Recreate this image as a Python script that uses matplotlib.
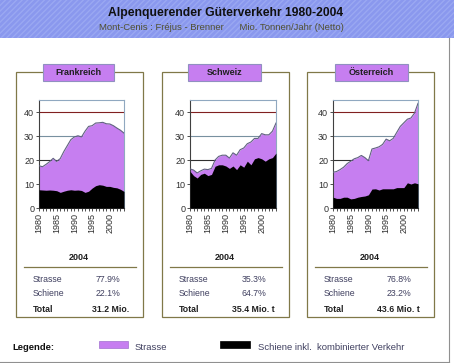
import matplotlib
matplotlib.use("Agg")
import matplotlib.pyplot as plt
from matplotlib.patches import Rectangle
import numpy as np

plt.rcParams["font.family"] = ["Liberation Sans", "DejaVu Sans"]

# ── Daten (Mio. Tonnen/Jahr) ──
YEARS = list(range(1980, 2005))

FR_TOTAL = [17.6, 17.2, 18.2, 19.3, 20.7, 19.4, 20.6, 23.5, 26.0, 28.5, 29.6, 30.1, 29.6,
            32.0, 34.0, 34.3, 35.4, 35.5, 35.7, 35.1, 35.0, 34.3, 33.3, 32.4, 31.2]
FR_RAIL = [7.6, 7.5, 7.4, 7.5, 7.4, 7.2, 6.5, 7.0, 7.4, 7.6, 7.4, 7.5, 7.3,
           6.5, 7.0, 8.3, 9.3, 9.7, 9.5, 9.0, 9.0, 8.6, 8.4, 7.8, 6.9]

CH_TOTAL = [16.3, 15.8, 14.6, 15.5, 16.2, 16.0, 16.5, 20.0, 21.5, 22.0, 22.0, 20.8, 23.0,
            22.0, 24.3, 25.0, 26.8, 27.5, 29.0, 29.0, 31.0, 30.5, 30.5, 32.0, 35.4]
CH_RAIL = [15.3, 13.5, 12.5, 14.0, 14.5, 13.5, 14.0, 17.4, 18.0, 18.0, 17.5, 16.5, 17.5,
           16.0, 18.0, 17.0, 19.5, 18.0, 20.5, 21.0, 20.5, 19.5, 20.5, 21.0, 22.9]

AT_TOTAL = [14.9, 15.2, 16.0, 17.0, 18.5, 19.5, 20.5, 21.0, 21.9, 21.0, 19.7, 24.6, 25.0,
            25.5, 26.5, 28.7, 28.0, 29.0, 31.5, 34.0, 35.5, 37.0, 37.5, 39.5, 43.6]
AT_RAIL = [4.5, 4.0, 4.0, 4.5, 4.5, 3.8, 4.0, 4.5, 4.8, 5.0, 5.5, 7.9, 8.0,
           7.5, 8.0, 8.0, 8.0, 8.0, 8.5, 8.5, 8.5, 10.5, 10.0, 10.5, 10.1]

COUNTRIES = ["Frankreich", "Schweiz", "Österreich"]
STRASSE = ["77.9%", "35.3%", "76.8%"]
SCHIENE = ["22.1%", "64.7%", "23.2%"]
TOTAL = ["31.2 Mio.", "35.4 Mio. t", "43.6 Mio. t"]
SERIES = [(FR_TOTAL, FR_RAIL), (CH_TOTAL, CH_RAIL), (AT_TOTAL, AT_RAIL)]

W, H = 454, 363
C_ROAD = "#c67ef0"
C_BOX = "#807848"
C_HEAD = "#8a98ee"

fig = plt.figure(figsize=(W / 100, H / 100), dpi=100, facecolor="white")

bg = fig.add_axes([0, 0, 1, 1])
bg.set_xlim(0, W)
bg.set_ylim(H, 0)
bg.axis("off")

# Kopfzeile
bg.add_patch(Rectangle((0, 0), W, 38, facecolor=C_HEAD, edgecolor="#9aa8f2",
                       hatch="//////", linewidth=0))
bg.text(226, 13, "Alpenquerender Güterverkehr 1980-2004", ha="center", va="center",
        fontsize=8.7, fontweight="bold", color="#101010")
bg.text(221, 28, "Mont-Cenis : Fréjus - Brenner      Mio. Tonnen/Jahr (Netto)",
        ha="center", va="center", fontsize=6.8, color="#505030")

# Rahmen rechts / unten
bg.plot([449, 449], [38, 362], color="#909090", lw=0.8)
bg.plot([0, 449], [361.5, 361.5], color="#909090", lw=0.8)

box_x = [16, 162, 307]
label_x = [(43, 114), (188, 261), (335, 408)]
ax_x = [(39, 124), (190, 276), (333, 418)]

for i, name in enumerate(COUNTRIES):
    x0 = box_x[i]
    bg.add_patch(Rectangle((x0, 72), 127, 245, facecolor="white", edgecolor=C_BOX, lw=0.9))
    lx0, lx1 = label_x[i]
    bg.add_patch(Rectangle((lx0, 64), lx1 - lx0, 17, facecolor=C_ROAD,
                           edgecolor="#9090c0", lw=0.8, zorder=3))
    bg.text((lx0 + lx1) / 2, 72.5, name, ha="center", va="center", fontsize=6.5,
            fontweight="bold", color="#202020", zorder=4)

    # Tabelle 2004
    bg.text(x0 + 63, 257, "2004", ha="center", va="center", fontsize=6.5,
            fontweight="bold", color="#202020")
    bg.plot([x0 + 8, x0 + 120], [266.5, 266.5], color=C_BOX, lw=0.9)
    bg.text(x0 + 17, 279, "Strasse", ha="left", va="center", fontsize=6.3, color="#404060")
    bg.text(x0 + 17, 294, "Schiene", ha="left", va="center", fontsize=6.3, color="#404060")
    bg.text(x0 + 17, 309, "Total", ha="left", va="center", fontsize=6.3,
            fontweight="bold", color="#202020")
    bg.text(x0 + 92, 279, STRASSE[i], ha="center", va="center", fontsize=6.3, color="#404060")
    bg.text(x0 + 92, 294, SCHIENE[i], ha="center", va="center", fontsize=6.3, color="#404060")
    bg.text(x0 + 113, 309, TOTAL[i], ha="right", va="center", fontsize=6.3,
            fontweight="bold", color="#202020")

    # Diagramm
    a0, a1 = ax_x[i]
    top, bottom = 100, 208
    ax = fig.add_axes([a0 / W, 1 - bottom / H, (a1 - a0) / W, (bottom - top) / H])
    total, rail = SERIES[i]
    for yv, c in zip([10, 20, 30, 40], ["#404040", "#303030", "#7890a0", "#802020"]):
        ax.axhline(yv, color=c, lw=0.8, zorder=1)
    ax.fill_between(YEARS, 0, total, color=C_ROAD, zorder=2, lw=0)
    ax.plot(YEARS, total, color="#606080", lw=0.8, zorder=3)
    ax.fill_between(YEARS, 0, rail, color="black", zorder=4, lw=0)
    ax.set_xlim(1980, 2004)
    ax.set_ylim(0, 45)
    ax.set_yticks([0, 10, 20, 30, 40])
    ax.set_xticks([1980, 1985, 1990, 1995, 2000])
    ax.set_xticks(YEARS, minor=True)
    ax.set_xticklabels(["1980", "1985", "1990", "1995", "2000"], rotation=90)
    ax.tick_params(axis="both", labelsize=6.5, colors="#303030", length=2, width=0.6, pad=1.5)
    ax.tick_params(axis="x", which="minor", length=2, width=0.6, colors="#303030")
    for s in ["top", "right"]:
        ax.spines[s].set_color("#90a8c0")
        ax.spines[s].set_linewidth(0.8)
    for s in ["left", "bottom"]:
        ax.spines[s].set_color("#404040")
        ax.spines[s].set_linewidth(0.8)

# Legende
bg.text(12, 347, "Legende:", ha="left", va="center", fontsize=6.8, fontweight="bold",
        color="#101010")
bg.add_patch(Rectangle((99, 341), 29, 7, facecolor=C_ROAD, edgecolor="#a070d0", lw=0.5))
bg.text(135, 347, "Strasse", ha="left", va="center", fontsize=6.8, color="#404060")
bg.add_patch(Rectangle((220, 341), 30, 7, facecolor="black", edgecolor="black", lw=0.5))
bg.text(258, 347, "Schiene inkl.  kombinierter Verkehr", ha="left", va="center",
        fontsize=6.8, color="#404060")

fig.savefig("out.png", dpi=100)
